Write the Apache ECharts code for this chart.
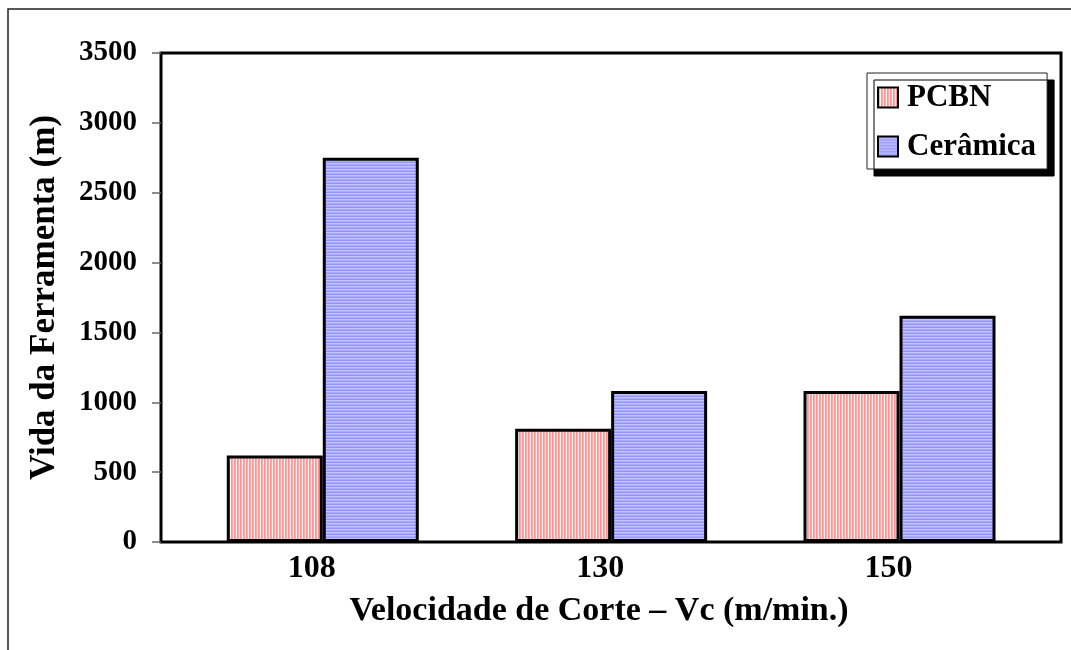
<!DOCTYPE html>
<html>
<head>
<meta charset="utf-8">
<title>Vida da Ferramenta</title>
<script src="https://cdn.jsdelivr.net/npm/echarts@6/dist/echarts.min.js"></script>
<style>
  html, body { margin: 0; padding: 0; background: #fff; }
  #chart { width: 1071px; height: 650px; }
</style>
</head>
<body>
<div id="chart"></div>
<script>
// Cutting speeds (m/min) and tool life (m) for each insert material
const categories = ['108', '130', '150'];
const pcbnLife = [620, 810, 1080];
const ceramicaLife = [2750, 1080, 1620];
const yTicks = [0, 500, 1000, 1500, 2000, 2500, 3000, 3500];

const FONT = '"Liberation Serif", "Times New Roman", serif';

// Striped fills: vertical red lines for PCBN, horizontal blue lines for ceramic
function stripeTile(vertical, colors) {
  const c = document.createElement('canvas');
  const n = colors.length;
  c.width = vertical ? n : 4;
  c.height = vertical ? 4 : n;
  const ctx = c.getContext('2d');
  colors.forEach((col, i) => {
    ctx.fillStyle = col;
    if (vertical) ctx.fillRect(i, 0, 1, 4);
    else ctx.fillRect(0, i, 4, 1);
  });
  return c;
}
const pcbnFill = { image: stripeTile(true, ['#ff9494', '#ffa8a8', '#fff0f0']), repeat: 'repeat' };
const ceramicaFill = { image: stripeTile(false, ['#9494ff', '#c4c4ff', '#acacff']), repeat: 'repeat' };

const toPairs = arr => arr.map((v, i) => [i, v]);

const chart = echarts.init(document.getElementById('chart'), null, { renderer: 'canvas' });

chart.setOption({
  animation: false,
  backgroundColor: '#ffffff',
  grid: {
    left: 161, top: 53, right: 10, bottom: 108,
    show: true, borderColor: '#000', borderWidth: 3, backgroundColor: 'transparent'
  },
  legend: {
    orient: 'vertical',
    left: 867, top: 73,
    padding: [9, 11, 7, 10],
    itemWidth: 20, itemHeight: 20, itemGap: 18,
    backgroundColor: '#fff',
    borderColor: '#222', borderWidth: 1,
    shadowColor: '#000', shadowBlur: 0, shadowOffsetX: 7, shadowOffsetY: 7,
    icon: 'rect',
    textStyle: { fontFamily: FONT, fontWeight: 'bold', fontSize: 31, lineHeight: 30, color: '#000', padding: [0, 0, 0, 4] },
    data: ['PCBN', 'Cerâmica']
  },
  xAxis: {
    type: 'value',
    min: -0.561, max: 2.56,
    splitLine: { show: false },
    axisLine: { show: false },
    axisTick: { show: false },
    axisLabel: {
      customValues: [0, 1, 2],
      formatter: v => categories[Math.round(v)],
      margin: 11,
      padding: [0, 22, 0, 0],
      fontFamily: FONT, fontWeight: 'bold', fontSize: 32, color: '#000'
    },
    name: 'Velocidade de Corte – Vc (m/min.)',
    nameLocation: 'middle',
    nameGap: 52,
    nameTextStyle: { fontFamily: FONT, fontWeight: 'bold', fontSize: 34, color: '#000', padding: [0, 24, 0, 0] }
  },
  yAxis: {
    type: 'value',
    min: yTicks[0], max: yTicks[yTicks.length - 1], interval: 500,
    splitLine: { show: false },
    axisLine: { show: false, onZero: false },
    axisTick: { show: true, length: 9, lineStyle: { color: '#666', width: 1.5 } },
    axisLabel: {
      margin: 24, formatter: v => String(v),
      fontFamily: FONT, fontWeight: 'bold', fontSize: 29, color: '#000'
    },
    name: 'Vida da Ferramenta (m)',
    nameLocation: 'middle',
    nameGap: 99,
    nameTextStyle: { fontFamily: FONT, fontWeight: 'bold', fontSize: 35, color: '#000' }
  },
  series: [
    {
      name: 'PCBN', type: 'bar',
      data: toPairs(pcbnLife),
      barWidth: 96, barGap: '0%',
      itemStyle: { color: pcbnFill, borderColor: '#000', borderWidth: 3 }
    },
    {
      name: 'Cerâmica', type: 'bar',
      data: toPairs(ceramicaLife),
      barWidth: 96, barGap: '0%',
      itemStyle: { color: ceramicaFill, borderColor: '#000', borderWidth: 3 }
    }
  ],
  graphic: [
    {
      type: 'polyline',
      shape: { points: [[8, 650], [8, 9], [1071, 9]] },
      style: { stroke: '#222', lineWidth: 1.5, fill: null },
      silent: true
    }
  ]
});
</script>
</body>
</html>
